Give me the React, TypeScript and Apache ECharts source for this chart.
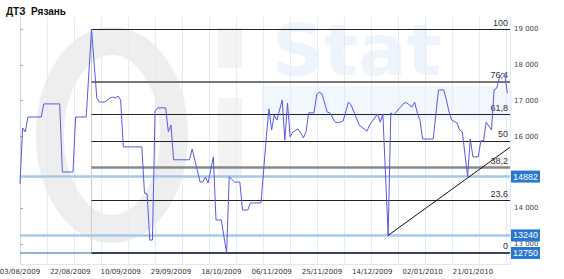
import React, { useEffect, useRef } from 'react';
import * as echarts from 'echarts';

// Day offsets from 03/08/2009 and prices
const days = [0, 1, 2, 3, 8, 9, 15, 16, 20, 21, 25, 27, 29, 30, 32, 34, 35, 36, 37, 38, 39, 46, 47, 48, 49, 50, 51, 52, 55, 56, 57, 58, 64, 65, 68, 69, 70, 71, 73, 74, 76, 78, 79, 81, 83, 84, 86, 87, 91, 93, 94, 95, 96, 97, 99, 100, 101, 102, 103, 105, 106, 107, 108, 109, 111, 112, 113, 114, 116, 117, 119, 120, 122, 124, 125, 127, 128, 131, 132, 135, 136, 137, 139, 140, 141, 142, 145, 146, 147, 148, 149, 150, 151, 152, 156, 158, 160, 161, 162, 163, 165, 166, 167, 169, 170, 171, 173, 174, 175, 176, 178, 179, 180, 181, 182, 183, 184];
const prices = [14680, 16240, 16130, 16545, 16545, 16910, 16910, 15010, 15010, 16545, 16545, 19000, 17075, 16960, 16960, 17075, 17100, 17075, 17130, 17020, 15710, 15710, 14420, 14400, 13110, 13110, 16710, 16800, 16800, 16130, 16320, 15350, 15350, 15650, 14730, 14730, 14870, 14700, 15430, 13670, 13670, 12750, 14870, 14730, 14730, 13950, 13950, 14145, 14145, 15990, 16770, 16180, 16600, 16460, 17020, 15900, 16935, 15990, 16126, 16210, 16100, 15960, 16130, 16660, 16660, 17160, 17240, 17190, 16680, 16660, 16400, 16380, 16430, 16960, 16880, 16520, 16320, 16150, 16320, 16630, 16400, 16630, 13240, 16660, 16600, 16680, 16935, 16940, 16880, 16820, 16960, 16660, 16460, 15930, 15930, 17300, 17300, 17020, 16680, 16460, 16380, 16180, 16130, 14880, 15930, 15430, 15430, 15880, 15880, 16400, 16180, 17300, 17350, 17630, 17770, 17740, 17210];

const startDateUTC = Date.UTC(2009, 7, 3);
const xLabelDays = [0, 19, 38, 57, 76, 95, 114, 133, 152, 171];
const yTickValues = [13000, 14000, 16000, 17000, 18000, 19000];

const fibHigh = 19000;
const fibLow = 12750;
const fibStartDay = 27;
const fibLevels = [100, 76.4, 61.8, 50, 38.2, 23.6, 0];
const fibLabels = ['100', '76,4', '61,8', '50', '38,2', '23,6', '0'];
const fibColors = ['#222222', '#777777', '#222222', '#222222', '#888888', '#222222', '#3a4656'];
const fibWidths = [1, 2, 1, 1, 2.5, 1, 2];

const priceLevels = [14882, 13240, 12750];
const priceLevelColors = ['#a6c8ea', '#a6c8ea', '#6a9ad0'];

const trendDays = [139, 185];
const trendValues = [13240, 15700];

const X_MAX = 185;

function fmtDate(v: number) {
  const d = new Date(startDateUTC + v * 86400000);
  const dd = String(d.getUTCDate()).padStart(2, '0');
  const mm = String(d.getUTCMonth() + 1).padStart(2, '0');
  return dd + '/' + mm + '/' + d.getUTCFullYear();
}

export default function App() {
  const ref = useRef<HTMLDivElement>(null);
  useEffect(() => {
    if (!ref.current) return;
    const chart = echarts.init(ref.current, null, { renderer: 'svg' });
    const priceData = days.map((d, i) => [d, prices[i]]);
    const fibMarks = fibLevels.map((lv, i) => {
      const v = fibLow + (lv / 100) * (fibHigh - fibLow);
      return [
        {
          coord: [fibStartDay, v],
          lineStyle: { color: fibColors[i], width: fibWidths[i], type: 'solid' },
          label: { formatter: fibLabels[i] },
        },
        { coord: [X_MAX, v] },
      ];
    });
    const priceMarks = priceLevels.map((v, i) => [
      {
        coord: [0, v],
        lineStyle: { color: priceLevelColors[i], width: i === 2 ? 1.5 : 2.5, type: 'solid' },
        label: { formatter: String(v) },
      },
      { coord: [X_MAX, v] },
    ]);
    const option: any = {
      animation: false,
      backgroundColor: '#ffffff',
      title: {
        text: 'ДТЗ  Рязань',
        left: 1,
        top: 1,
        textStyle: { fontFamily: 'Liberation Sans', fontSize: 10, fontWeight: 'bold', color: '#111' },
      },
      graphic: [
        { type: 'ellipse', z: -10, shape: { cx: 112, cy: 135, rx: 62, ry: 94 }, style: { fill: 'none', stroke: '#eeeeee', lineWidth: 28 }, silent: true },
        { type: 'rect', z: -10, shape: { x: 218, y: 28, width: 24, height: 40 }, style: { fill: '#f3f3f3' }, silent: true },
        { type: 'rect', z: -10, shape: { x: 218, y: 98, width: 24, height: 80 }, style: { fill: '#f3f3f3' }, silent: true },
        { type: 'rect', z: -10, shape: { x: 262, y: 86, width: 250, height: 34 }, style: { fill: '#f2f7fd' }, silent: true },
        { type: 'text', z: -10, x: 272, y: 14, style: { text: 'Stat', fontSize: 72, fontWeight: 'bold', fontFamily: 'DejaVu Sans', fill: '#edf4fb' }, silent: true },
      ],
      grid: { left: 20, right: 54, top: 17, bottom: 15, outerBoundsMode: 'none', containLabel: false },
      xAxis: {
        type: 'value',
        min: 0,
        max: X_MAX,
        interval: 10.2,
        axisLine: { show: true, lineStyle: { color: '#dde6f1' } },
        axisTick: { show: false },
        splitLine: { show: true, lineStyle: { color: '#e2ebf6', width: 1 } },
        axisLabel: {
          customValues: xLabelDays,
          formatter: (v: number) => fmtDate(v),
          fontFamily: 'DejaVu Sans',
          fontSize: 7,
          color: '#333',
          margin: 4,
        },
      },
      yAxis: {
        type: 'value',
        position: 'right',
        min: 12442,
        max: 19335,
        axisLine: { show: true, lineStyle: { color: '#c9d5e2' } },
        axisTick: { show: true, length: 3, customValues: yTickValues, lineStyle: { color: '#9aa' } },
        splitLine: { show: false },
        axisLabel: {
          customValues: yTickValues,
          formatter: (v: number) => String(v).replace(/\B(?=(\d{3})+(?!\d))/g, ' '),
          fontFamily: 'DejaVu Sans',
          fontSize: 7,
          color: '#444',
          margin: 4,
        },
      },
      series: [
        {
          type: 'line',
          name: 'levels',
          data: [],
          z: 3,
          silent: true,
          markLine: {
            silent: true,
            symbol: ['none', 'none'],
            animation: false,
            label: {
              show: true,
              position: 'end',
              distance: 1,
              fontFamily: 'Liberation Sans',
              fontSize: 9,
              color: '#ffffff',
              backgroundColor: '#2878d0',
              padding: [2, 2, 1, 2],
            },
            data: priceMarks,
          },
        },
        {
          type: 'line',
          name: 'fib',
          data: [],
          z: 4,
          silent: true,
          markLine: {
            silent: true,
            symbol: ['none', 'none'],
            animation: false,
            label: {
              show: true,
              position: 'insideEndTop',
              distance: 2,
              fontFamily: 'Liberation Sans',
              fontSize: 9,
              color: '#333',
            },
            data: [
              [
                { coord: [fibStartDay, fibLow], lineStyle: { color: '#cccccc', width: 1, type: 'solid' }, label: { show: false } },
                { coord: [fibStartDay, fibHigh] },
              ],
              ...fibMarks,
            ],
          },
        },
        {
          type: 'line',
          name: 'price',
          data: priceData,
          symbol: 'none',
          z: 5,
          lineStyle: { color: '#5858e6', width: 1 },
        },
        {
          type: 'line',
          name: 'trend',
          data: trendDays.map((d, i) => [d, trendValues[i]]),
          symbol: 'none',
          z: 6,
          lineStyle: { color: '#111', width: 1 },
        },
      ],
    };
    chart.setOption(option);
    return () => chart.dispose();
  }, []);
  return <div ref={ref} style={{ width: 564, height: 279, position: 'absolute', left: 0, top: 0 }} />;
}
